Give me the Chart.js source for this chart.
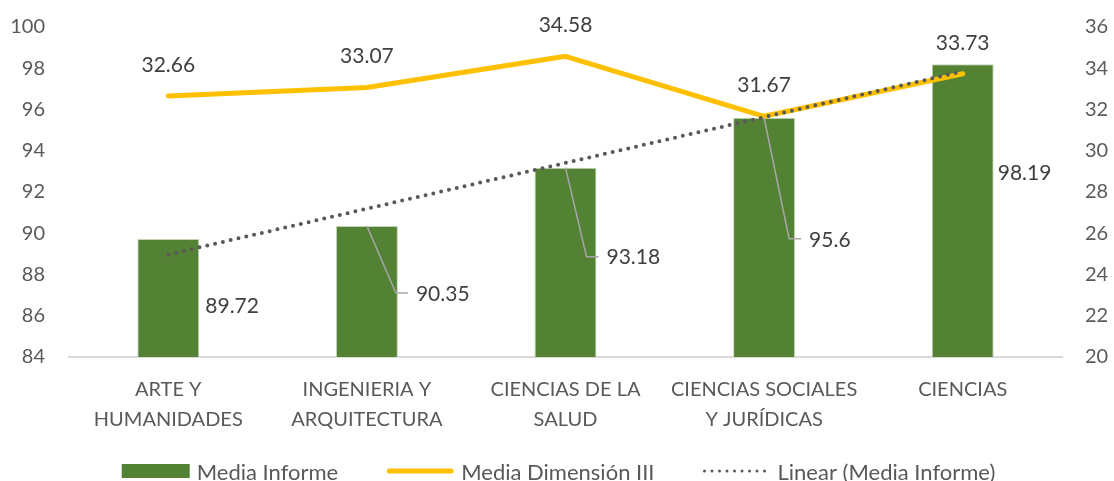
<!DOCTYPE html>
<html>
<head>
<meta charset="utf-8">
<script src="https://cdn.jsdelivr.net/npm/chart.js@4"></script>
<style>
  html, body { margin: 0; padding: 0; background: #fff; }
</style>
</head>
<body>
<canvas id="myChart" width="1114" height="481"></canvas>
<script>
// chart data
const categories = [
    ['ARTE Y', 'HUMANIDADES'],
    ['INGENIERIA Y', 'ARQUITECTURA'],
    ['CIENCIAS DE LA', 'SALUD'],
    ['CIENCIAS SOCIALES', 'Y JURÍDICAS'],
    ['CIENCIAS']
];
const mediaInforme = [89.72, 90.35, 93.18, 95.6, 98.19];
const mediaDimension = [32.66, 33.07, 34.58, 31.67, 33.73];
// linear trendline of Media Informe as drawn in the picture
const trendInforme = [88.97, 91.19, 93.41, 95.63, 97.85];
const leftTicks = [84, 86, 88, 90, 92, 94, 96, 98, 100];
const rightTicks = [20, 22, 24, 26, 28, 30, 32, 34, 36];
const legendNames = ['Media Informe', 'Media Dimensión III', 'Linear (Media Informe)'];

const FONT = 'Lato, "Open Sans", sans-serif';
const GREEN = '#548235';
const YELLOW = '#FFC000';
const DOTS = '#595959';

// where the bar labels were dragged to (offset from the bar top centre)
const barLabelShift = [
    { dx: 37, dy: 66, leader: false },
    { dx: 49, dy: 67, leader: true },
    { dx: 41, dy: 89, leader: true },
    { dx: 45, dy: 121, leader: true },
    { dx: 35, dy: 108, leader: false }
];

// draws the data labels
const labelPlugin = {
    id: 'dataLabels',
    afterDatasetsDraw(chart) {
        const ctx = chart.ctx;
        const bars = chart.getDatasetMeta(0).data;
        const points = chart.getDatasetMeta(1).data;
        ctx.save();
        ctx.font = '21px ' + FONT;
        ctx.fillStyle = '#404040';
        ctx.textBaseline = 'middle';

        ctx.textAlign = 'center';
        points.forEach((p, i) => ctx.fillText(String(mediaDimension[i]), p.x, p.y - 31));

        ctx.textAlign = 'left';
        bars.forEach((b, i) => {
            const s = barLabelShift[i];
            const lx = b.x + s.dx;
            const ly = b.y + s.dy;
            if (s.leader) {
                ctx.strokeStyle = '#A6A6A6';
                ctx.lineWidth = 1.5;
                ctx.beginPath();
                ctx.moveTo(b.x, b.y);
                ctx.lineTo(lx - 20, ly);
                ctx.lineTo(lx - 8, ly);
                ctx.stroke();
            }
            ctx.fillText(String(mediaInforme[i]), lx, ly + 1);
        });
        ctx.restore();
    }
};

// draws the legend at the bottom
const legendPlugin = {
    id: 'bottomLegend',
    afterDraw(chart) {
        const ctx = chart.ctx;
        const area = chart.chartArea;
        const symW = 68, gap = 7, itemGap = 48, y = 471;
        ctx.save();
        ctx.font = '22px ' + FONT;
        const widths = legendNames.map(n => ctx.measureText(n).width);
        let total = widths.reduce((a, w) => a + symW + gap + w, 0) + itemGap * 2;
        let x = (area.left + area.right) / 2 - 7 - total / 2;
        legendNames.forEach((name, i) => {
            if (i === 0) {
                ctx.fillStyle = GREEN;
                ctx.fillRect(x, y - 7, symW, 14);
            } else if (i === 1) {
                ctx.strokeStyle = YELLOW;
                ctx.lineWidth = 5;
                ctx.lineCap = 'round';
                ctx.beginPath();
                ctx.moveTo(x + 3, y);
                ctx.lineTo(x + symW - 3, y);
                ctx.stroke();
            } else {
                ctx.strokeStyle = DOTS;
                ctx.lineWidth = 3;
                ctx.lineCap = 'round';
                ctx.setLineDash([0, 7.5]);
                ctx.beginPath();
                ctx.moveTo(x + 2, y);
                ctx.lineTo(x + symW, y);
                ctx.stroke();
                ctx.setLineDash([]);
            }
            ctx.fillStyle = '#595959';
            ctx.textAlign = 'left';
            ctx.textBaseline = 'middle';
            ctx.fillText(name, x + symW + gap, y + 2);
            x += symW + gap + widths[i] + itemGap;
        });
        ctx.restore();
    }
};

// fixed axis width, and no extra room above/below for the tick padding
function fixAxis(width) {
    return function (scale) {
        scale.width = width;
        scale.paddingTop = 0;
        scale.paddingBottom = 0;
    };
}

const ctx = document.getElementById('myChart').getContext('2d');
new Chart(ctx, {
    type: 'bar',
    data: {
        labels: categories,
        datasets: [
            {
                type: 'bar',
                label: legendNames[0],
                data: mediaInforme,
                yAxisID: 'y',
                backgroundColor: GREEN,
                borderColor: '#C5D5BA',
                borderWidth: 1,
                categoryPercentage: 1,
                barPercentage: 0.312,
                order: 3
            },
            {
                type: 'line',
                label: legendNames[1],
                data: mediaDimension,
                yAxisID: 'y1',
                borderColor: YELLOW,
                borderWidth: 5,
                borderCapStyle: 'round',
                borderJoinStyle: 'round',
                pointRadius: 0,
                tension: 0,
                order: 2
            },
            {
                type: 'line',
                label: legendNames[2],
                data: trendInforme,
                yAxisID: 'y',
                borderColor: DOTS,
                borderWidth: 4,
                borderDash: [0, 8],
                borderCapStyle: 'round',
                pointRadius: 0,
                tension: 0,
                order: 1
            }
        ]
    },
    options: {
        responsive: false,
        animation: false,
        layout: { padding: { top: 27, bottom: 44, left: 0, right: 0 } },
        plugins: {
            legend: { display: false },
            tooltip: { enabled: false }
        },
        scales: {
            x: {
                grid: { display: false, drawTicks: false },
                border: { color: '#D9D9D9', width: 2 },
                ticks: {
                    color: '#595959',
                    padding: 18,
                    maxRotation: 0,
                    autoSkip: false,
                    font: { family: FONT, size: 20, lineHeight: 1.5 }
                },
                afterFit(scale) { scale.height = 80; }
            },
            y: {
                position: 'left',
                min: leftTicks[0],
                max: leftTicks[leftTicks.length - 1],
                afterBuildTicks(scale) { scale.ticks = leftTicks.map(v => ({ value: v })); },
                grid: { display: false, drawTicks: false },
                border: { display: false },
                ticks: {
                    color: '#595959',
                    padding: 24,
                    font: { family: FONT, size: 20 }
                },
                afterFit: fixAxis(69)
            },
            y1: {
                position: 'right',
                min: rightTicks[0],
                max: rightTicks[rightTicks.length - 1],
                afterBuildTicks(scale) { scale.ticks = rightTicks.map(v => ({ value: v })); },
                grid: { display: false, drawTicks: false },
                border: { display: false },
                ticks: {
                    color: '#595959',
                    padding: 23,
                    font: { family: FONT, size: 20 }
                },
                afterFit: fixAxis(52)
            }
        }
    },
    plugins: [labelPlugin, legendPlugin]
});
</script>
</body>
</html>
